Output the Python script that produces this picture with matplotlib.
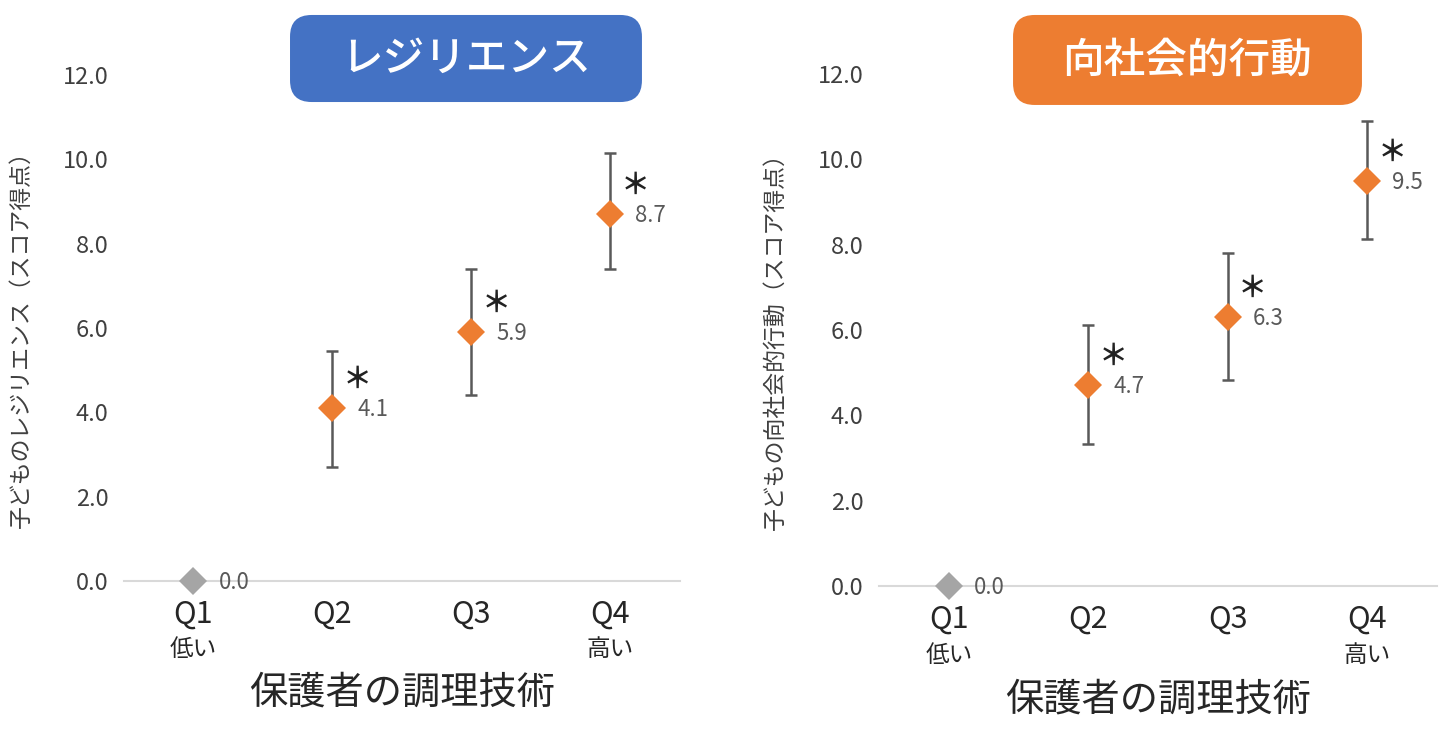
import matplotlib.pyplot as plt
from matplotlib.patches import FancyBboxPatch

plt.rcParams['font.family'] = ['Noto Sans CJK JP', 'DejaVu Sans']

# Data
quartiles = ['Q1', 'Q2', 'Q3', 'Q4']
sub_labels = ['低い', '', '', '高い']

res_mean = [0.0, 4.1, 5.9, 8.7]
res_lo = [0.0, 2.7, 4.4, 7.4]
res_hi = [0.0, 5.45, 7.4, 10.15]

pro_mean = [0.0, 4.7, 6.3, 9.5]
pro_lo = [0.0, 3.33, 4.82, 8.13]
pro_hi = [0.0, 6.11, 7.8, 10.89]

signif = [False, True, True, True]

ORANGE = '#ED7D31'
GRAY = '#A5A5A5'
BLUE = '#4472C4'


def draw_panel(ax, mean, lo, hi, ylabel):
    x = list(range(len(quartiles)))
    for i in x:
        if i == 0:
            ax.plot(i, mean[i], marker='D', ms=14, color=GRAY, mew=0, clip_on=False, zorder=4)
        else:
            ax.errorbar(i, mean[i], yerr=[[mean[i] - lo[i]], [hi[i] - mean[i]]],
                        fmt='none', ecolor='#595959', elinewidth=1.8, capsize=4,
                        capthick=1.8, zorder=2)
            ax.plot(i, mean[i], marker='D', ms=14, color=ORANGE, mew=0, zorder=4)
        ax.annotate(f'{mean[i]:.1f}', (i, mean[i]), xytext=(18, -1), textcoords='offset points',
                    ha='left', va='center', fontsize=16, color='#595959')
        if signif[i]:
            ax.annotate('＊', (i, mean[i]), xytext=(18, 21), textcoords='offset points',
                        ha='center', va='center', fontsize=21, color='#222222',
                        fontweight='bold')

    ax.set_xlim(-0.5, 3.5)
    ax.set_ylim(0, 12)
    ax.set_yticks([0, 2, 4, 6, 8, 10, 12])
    ax.set_yticklabels([f'{v:.1f}' for v in [0, 2, 4, 6, 8, 10, 12]])
    ax.tick_params(axis='y', length=0, pad=11, labelsize=17, labelcolor='#404040')
    ax.set_xticks([])
    for s in ['top', 'right', 'left']:
        ax.spines[s].set_visible(False)
    ax.spines['bottom'].set_color('#D9D9D9')
    ax.spines['bottom'].set_linewidth(1.5)

    for i, q in enumerate(quartiles):
        ax.text(i, -0.065, q, transform=ax.get_xaxis_transform(), ha='center', va='center',
                fontsize=22, color='#262626')
        if sub_labels[i]:
            ax.text(i, -0.135, sub_labels[i], transform=ax.get_xaxis_transform(),
                    ha='center', va='center', fontsize=17, color='#262626')
    ax.text(0.5, -0.222, '保護者の調理技術', transform=ax.transAxes, ha='center', va='center',
            fontsize=27.5, color='#262626')

    ax.set_ylabel(ylabel, fontsize=16.5, color='#404040')
    ax.yaxis.set_label_coords(-0.165, 0.49)


fig = plt.figure(figsize=(14.4, 7.34), dpi=100)
ax1 = fig.add_axes([0.0861, 0.2084, 0.3861, 0.6894])
ax2 = fig.add_axes([0.6104, 0.2016, 0.3875, 0.6976])

draw_panel(ax1, res_mean, res_lo, res_hi, '子どものレジリエンス（スコア得点）')
draw_panel(ax2, pro_mean, pro_lo, pro_hi, '子どもの向社会的行動（スコア得点）')

# Title boxes
for (x0, y0, w, h, color, title) in [
        (0.2014, 0.861, 0.2444, 0.1186, BLUE, 'レジリエンス'),
        (0.7035, 0.857, 0.2423, 0.1226, ORANGE, '向社会的行動')]:
    box = FancyBboxPatch((x0, y0), w, h, boxstyle='round,pad=0,rounding_size=0.015',
                         transform=fig.transFigure, facecolor=color, edgecolor='none',
                         mutation_aspect=1.96)
    fig.patches.append(box)
    fig.text(x0 + w / 2, y0 + h / 2, title, ha='center', va='center', fontsize=30,
             color='white', fontweight='medium')

fig.savefig('out.png', dpi=100)
